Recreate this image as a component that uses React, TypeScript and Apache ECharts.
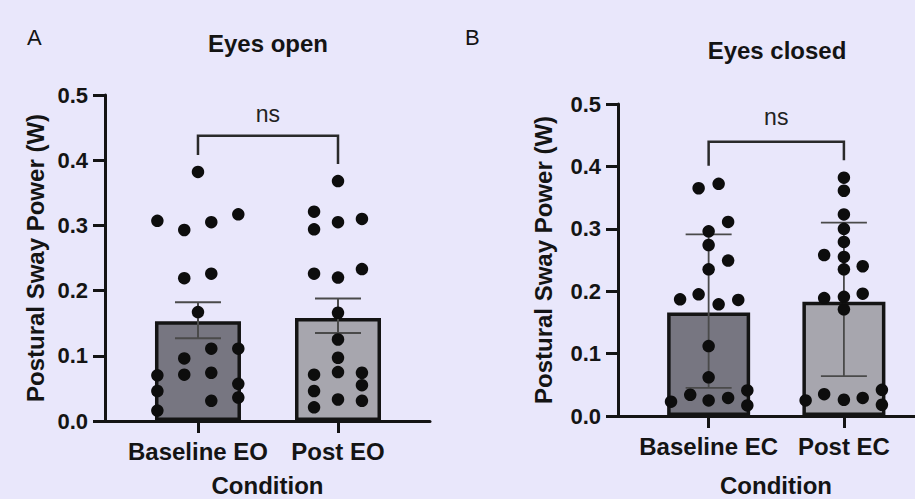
import React, { useEffect, useRef } from "react";
import * as echarts from "echarts";

const FONT = "'Liberation Sans', Arial, Helvetica, sans-serif";
const INK = "#141414";

const categoriesOpen = ["Baseline EO", "Post EO"];
const categoriesClosed = ["Baseline EC", "Post EC"];

// bar heights (means)
const meanOpen = [0.153, 0.158];
const meanClosed = [0.166, 0.183];
// error bars (A: SEM, B: SD)
const errLowOpen = [0.127, 0.135];
const errHighOpen = [0.182, 0.188];
const errLowClosed = [0.045, 0.064];
const errHighClosed = [0.291, 0.31];

// individual participants: value + horizontal jitter (in category units)
const baselineEOValues = [0.382, 0.307, 0.293, 0.305, 0.317, 0.219, 0.226, 0.167, 0.111, 0.111, 0.096, 0.071, 0.074, 0.07, 0.046, 0.016, 0.057, 0.036, 0.031];
const baselineEOJitter = [0, -0.29, -0.098, 0.095, 0.288, -0.098, 0.095, 0, 0.095, 0.288, -0.098, -0.098, 0.095, -0.29, -0.29, -0.29, 0.288, 0.288, 0.095];
const postEOValues = [0.368, 0.321, 0.294, 0.305, 0.31, 0.226, 0.22, 0.233, 0.166, 0.125, 0.097, 0.075, 0.071, 0.074, 0.055, 0.046, 0.033, 0.031, 0.021];
const postEOJitter = [0, -0.171, -0.171, 0, 0.171, -0.171, 0, 0.171, 0, 0, 0, 0, -0.171, 0.171, 0.171, -0.171, 0, 0.171, -0.171];

const baselineECValues = [0.365, 0.372, 0.311, 0.296, 0.274, 0.249, 0.235, 0.187, 0.195, 0.179, 0.186, 0.112, 0.062, 0.034, 0.025, 0.029, 0.023, 0.041, 0.017];
const baselineECJitter = [-0.074, 0.074, 0.144, 0, 0, 0.144, 0, -0.211, -0.074, 0.074, 0.219, 0, 0, -0.136, 0, 0.144, -0.278, 0.286, 0.286];
const postECValues = [0.382, 0.361, 0.323, 0.3, 0.279, 0.255, 0.258, 0.24, 0.235, 0.189, 0.191, 0.196, 0.171, 0.025, 0.035, 0.026, 0.029, 0.042, 0.018];
const postECJitter = [0, 0, 0, 0, 0, 0, -0.146, 0.139, 0, -0.146, 0, 0.139, 0, -0.283, -0.146, 0, 0.139, 0.281, 0.281];

// significance brackets: [x1, x2, top, leftLegEnd, rightLegEnd, labelY]
const bracketOpen = [0, 1, 0.4375, 0.408, 0.394, 0.471];
const bracketClosed = [0, 1, 0.4395, 0.401, 0.41, 0.479];
const bracketLabel = "ns";

const barColors = ["#777681", "#a7a6ae"];

const toPoints = (center: number, vals: number[], jit: number[]) =>
  vals.map((v, i) => [center + jit[i], v]);

const errRender = (lineWidth: number, color: string) => (params: any, api: any) => {
  const x = api.value(0);
  const lo = api.coord([x, api.value(1)]);
  const hi = api.coord([x, api.value(2)]);
  const half = 23;
  const style = { stroke: color, lineWidth };
  return {
    type: "group",
    children: [
      { type: "line", shape: { x1: lo[0], y1: lo[1], x2: hi[0], y2: hi[1] }, style },
      { type: "line", shape: { x1: hi[0] - half, y1: hi[1], x2: hi[0] + half, y2: hi[1] }, style },
      { type: "line", shape: { x1: lo[0] - half, y1: lo[1], x2: lo[0] + half, y2: lo[1] }, style },
    ],
  };
};

const bracketRender = (params: any, api: any) => {
  const x1 = api.value(0), x2 = api.value(1);
  const top = api.value(2), l = api.value(3), r = api.value(4), ly = api.value(5);
  const a = api.coord([x1, l]);
  const b = api.coord([x1, top]);
  const c = api.coord([x2, top]);
  const d = api.coord([x2, r]);
  const t = api.coord([(x1 + x2) / 2, ly]);
  return {
    type: "group",
    children: [
      {
        type: "polyline",
        shape: { points: [a, b, c, d] },
        style: { stroke: "#2a2a2a", lineWidth: 2.5, fill: null },
      },
      {
        type: "text",
        style: {
          text: bracketLabel,
          x: t[0],
          y: t[1],
          align: "center",
          verticalAlign: "middle",
          textAlign: "center",
          textVerticalAlign: "middle",
          font: `23px ${FONT}`,
          fill: "#222",
        },
      },
    ],
  };
};

function yAxisCfg(gridIndex: number, labelMargin: number, nameGap: number) {
  return {
    type: "value",
    gridIndex,
    min: 0,
    max: 0.5,
    interval: 0.1,
    name: "Postural Sway Power (W)",
    nameLocation: "middle",
    nameGap,
    nameTextStyle: { fontFamily: FONT, fontWeight: "bold", fontSize: 24, color: INK },
    axisLine: { show: true, onZero: false, lineStyle: { color: INK, width: 3 } },
    axisTick: { show: true, length: 12, lineStyle: { color: INK, width: 3 } },
    splitLine: { show: false },
    axisLabel: {
      margin: labelMargin,
      formatter: (v: number) => v.toFixed(1),
      fontFamily: FONT,
      fontWeight: "bold",
      fontSize: 22,
      color: INK,
    },
  };
}

function xAxisCfg(gridIndex: number, min: number, max: number, cats: string[], nameGap: number) {
  return {
    type: "value",
    gridIndex,
    min,
    max,
    name: "Condition",
    nameLocation: "middle",
    nameGap,
    nameTextStyle: { fontFamily: FONT, fontWeight: "bold", fontSize: 24, color: INK },
    axisLine: { show: true, onZero: false, lineStyle: { color: INK, width: 3 } },
    axisTick: { show: true, length: 12, customValues: [0, 1], lineStyle: { color: INK, width: 3 } },
    splitLine: { show: false },
    axisLabel: {
      customValues: [0, 1],
      margin: 18,
      formatter: (v: number) => cats[Math.round(v)] ?? "",
      fontFamily: FONT,
      fontWeight: "bold",
      fontSize: 24,
      color: INK,
    },
  };
}

function panelSeries(
  idx: number,
  means: number[],
  lows: number[],
  highs: number[],
  groups: number[][][],
  bracket: number[],
  barWidth: number,
  errWidth: number
) {
  return [
    {
      type: "bar",
      xAxisIndex: idx,
      yAxisIndex: idx,
      barWidth,
      data: means.map((m, i) => ({ value: [i, m], itemStyle: { color: barColors[i] } })),
      itemStyle: { borderColor: INK, borderWidth: 3.5 },
      z: 2,
    },
    {
      type: "custom",
      xAxisIndex: idx,
      yAxisIndex: idx,
      renderItem: errRender(errWidth, "#4a4a4a"),
      data: means.map((_, i) => [i, lows[i], highs[i]]),
      encode: { x: 0, y: [1, 2] },
      z: 3,
    },
    ...groups.map((g) => ({
      type: "scatter",
      xAxisIndex: idx,
      yAxisIndex: idx,
      symbolSize: 12.5,
      itemStyle: { color: "#0d0d0d", opacity: 1 },
      data: g,
      z: 4,
    })),
    {
      type: "custom",
      xAxisIndex: idx,
      yAxisIndex: idx,
      renderItem: bracketRender,
      data: [bracket],
      encode: { x: [0, 1], y: [2, 3, 4] },
      z: 5,
    },
  ];
}

export default function App() {
  const ref = useRef<HTMLDivElement>(null);
  useEffect(() => {
    if (!ref.current) return;
    const chart = echarts.init(ref.current, null, { renderer: "svg" });
    chart.setOption({
      animation: false,
      backgroundColor: "#e9e7fb",
      title: [
        { text: "A", left: 27, top: 26, padding: 0, textStyle: { fontFamily: FONT, fontWeight: "normal", fontSize: 22, color: INK } },
        { text: "Eyes open", left: 268, top: 31, padding: 0, textAlign: "center", textStyle: { fontFamily: FONT, fontWeight: "bold", fontSize: 24, color: INK } },
        { text: "B", left: 465, top: 26, padding: 0, textStyle: { fontFamily: FONT, fontWeight: "normal", fontSize: 22, color: INK } },
        { text: "Eyes closed", left: 777, top: 38, padding: 0, textAlign: "center", textStyle: { fontFamily: FONT, fontWeight: "bold", fontSize: 24, color: INK } },
      ],
      grid: [
        { left: 105, right: 485, top: 95, bottom: 78, containLabel: false, outerBoundsMode: "none" },
        { left: 618, right: -19, top: 104, bottom: 83, containLabel: false, outerBoundsMode: "none" },
      ],
      xAxis: [
        xAxisCfg(0, -0.664, 1.657, categoriesOpen, 52),
        xAxisCfg(1, -0.67, 1.666, categoriesClosed, 57),
      ],
      yAxis: [yAxisCfg(0, 17, 58), yAxisCfg(1, 17, 63)],
      series: [
        ...panelSeries(
          0,
          meanOpen,
          errLowOpen,
          errHighOpen,
          [toPoints(0, baselineEOValues, baselineEOJitter), toPoints(1, postEOValues, postEOJitter)],
          bracketOpen,
          86,
          2
        ),
        ...panelSeries(
          1,
          meanClosed,
          errLowClosed,
          errHighClosed,
          [toPoints(0, baselineECValues, baselineECJitter), toPoints(1, postECValues, postECJitter)],
          bracketClosed,
          83,
          1.8
        ),
      ],
    });
    return () => chart.dispose();
  }, []);
  return (
    <div
      ref={ref}
      style={{ position: "fixed", left: 0, top: 0, width: 915, height: 499, background: "#e9e7fb" }}
    />
  );
}
